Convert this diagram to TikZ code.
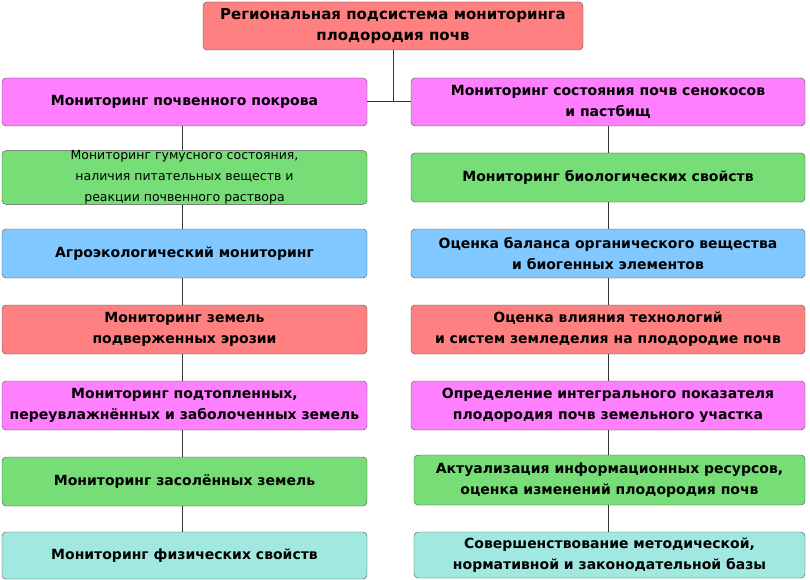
\documentclass[tikz,border=0pt]{standalone}
\usepackage{fontspec}
\setmainfont{DejaVu Sans}
\begin{document}
\begin{tikzpicture}[x=1pt,y=-1pt,
 bx/.style={draw=black!70,rounded corners=4pt,align=center,font=\bfseries\fontsize{14}{21}\selectfont,inner sep=0pt},
 ln/.style={draw=black!80,line width=0.6pt}]
\definecolor{cr}{HTML}{FF8080}\definecolor{cm}{HTML}{FF80FF}\definecolor{cg}{HTML}{77DD77}
\definecolor{cb}{HTML}{80C8FF}\definecolor{cc}{HTML}{A0E8E0}
\path[use as bounding box] (0,0) rectangle (810,580);
\newcommand\mybox[7]{\node[bx,fill=#6,minimum width=#3-#1,minimum height=#4-#2] (#5) at ({(#1+#3)/2},{(#2+#4)/2}) {#7};}
\mybox{203}{2}{583}{50}{T}{cr}{\fontsize{15}{20}\selectfont Региональная подсистема мониторинга\\\fontsize{15}{20}\selectfont плодородия почв}
\mybox{2}{78}{367}{126}{L1}{cm}{Мониторинг почвенного покрова}
\mybox{2}{153}{367}{202}{L2}{cg}{\mdseries\fontsize{12.5}{15}\selectfont Мониторинг гумусного состояния,\\\mdseries\fontsize{12.5}{15}\selectfont наличия питательных веществ и\\\mdseries\fontsize{12.5}{15}\selectfont реакции почвенного раствора}
\mybox{2}{229}{367}{278}{L3}{cb}{Агроэкологический мониторинг}
\mybox{2}{305}{367}{354}{L4}{cr}{Мониторинг земель\\подверженных эрозии}
\mybox{2}{381}{367}{430}{L5}{cm}{Мониторинг подтопленных,\\переувлажнённых и заболоченных земель}
\mybox{2}{457}{367}{506}{L6}{cg}{Мониторинг засолённых земель}
\mybox{2}{532}{367}{579}{L7}{cc}{Мониторинг физических свойств}
\mybox{411}{78}{805}{126}{R1}{cm}{Мониторинг состояния почв сенокосов\\и пастбищ}
\mybox{411}{153}{805}{202}{R2}{cg}{Мониторинг биологических свойств}
\mybox{411}{229}{805}{278}{R3}{cb}{Оценка баланса органического вещества\\и биогенных элементов}
\mybox{411}{305}{805}{354}{R4}{cr}{Оценка влияния технологий\\и систем земледелия на плодородие почв}
\mybox{411}{381}{805}{430}{R5}{cm}{Определение интегрального показателя\\плодородия почв земельного участка}
\mybox{414}{455}{805}{505}{R6}{cg}{Актуализация информационных ресурсов,\\оценка изменений плодородия почв}
\mybox{414}{532}{805}{578}{R7}{cc}{Совершенствование методической,\\нормативной и законодательной базы}
\coordinate (J) at (393,101);
\draw[ln] (T.south -| J) -- (J);
\draw[ln] (L1.east |- J) -- (R1.west |- J);
\foreach \a/\b in {L1/L2,L2/L3,L3/L4,L4/L5,L5/L6,L6/L7}{\draw[ln] ([xshift=-2pt]\a.south) -- ([xshift=-2pt]\b.north);}
\foreach \a/\b in {R1/R2,R2/R3,R3/R4,R4/R5,R5/R6,R6/R7}{\draw[ln] (608,0 |- \a.south) -- (608,0 |- \b.north);}
\end{tikzpicture}
\end{document}
